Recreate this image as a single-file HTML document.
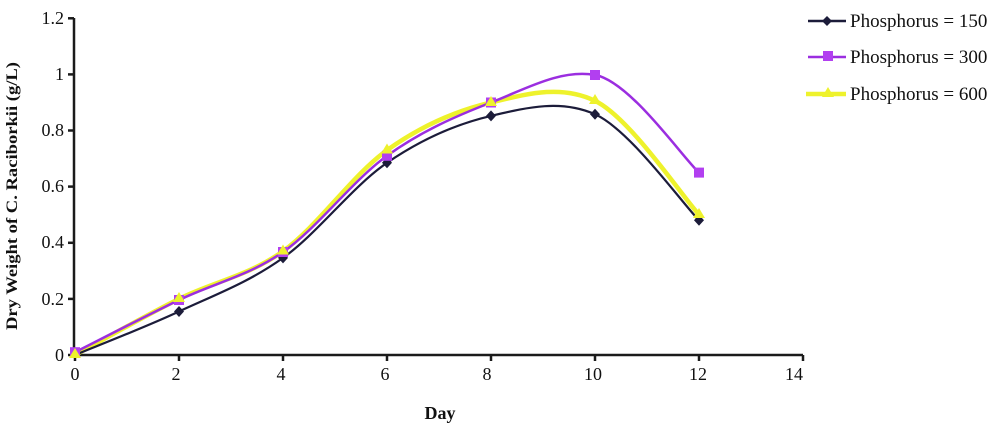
<!DOCTYPE html>
<html><head><meta charset="utf-8"><style>
html,body{margin:0;padding:0;background:#fff;}
svg{display:block;}
text{font-family:"Liberation Serif",serif;fill:#111;}
</style></head><body>
<svg width="1000" height="425" viewBox="0 0 1000 425" xmlns="http://www.w3.org/2000/svg">
<rect width="1000" height="425" fill="#fff"/>
<!-- axes -->
<g stroke="#1b1b1b" stroke-width="2.5" fill="none">
<line x1="74" y1="18" x2="74" y2="356"/>
<line x1="73" y1="355" x2="803" y2="355"/>
<line x1="68" y1="18.3" x2="74" y2="18.3"/>
<line x1="68" y1="74.4" x2="74" y2="74.4"/>
<line x1="68" y1="130.5" x2="74" y2="130.5"/>
<line x1="68" y1="186.6" x2="74" y2="186.6"/>
<line x1="68" y1="242.8" x2="74" y2="242.8"/>
<line x1="68" y1="298.9" x2="74" y2="298.9"/>
<line x1="68" y1="355" x2="74" y2="355"/>
<line x1="75" y1="355" x2="75" y2="361"/>
<line x1="179" y1="355" x2="179" y2="361"/>
<line x1="283" y1="355" x2="283" y2="361"/>
<line x1="387" y1="355" x2="387" y2="361"/>
<line x1="491" y1="355" x2="491" y2="361"/>
<line x1="595" y1="355" x2="595" y2="361"/>
<line x1="699" y1="355" x2="699" y2="361"/>
<line x1="803" y1="355" x2="803" y2="361"/>
</g>
<!-- y tick labels -->
<g font-size="18" text-anchor="end">
<text x="64" y="24">1.2</text>
<text x="64" y="80">1</text>
<text x="64" y="136">0.8</text>
<text x="64" y="192">0.6</text>
<text x="64" y="248">0.4</text>
<text x="64" y="305">0.2</text>
<text x="64" y="361">0</text>
</g>
<!-- x tick labels -->
<g font-size="18" text-anchor="middle">
<text x="75" y="380">0</text>
<text x="176" y="380">2</text>
<text x="281" y="380">4</text>
<text x="385" y="380">6</text>
<text x="487" y="380">8</text>
<text x="593" y="380">10</text>
<text x="698" y="380">12</text>
<text x="794" y="380">14</text>
</g>
<text x="440" y="419" font-size="18" font-weight="bold" text-anchor="middle">Day</text>
<text transform="translate(17,196) rotate(-90)" font-size="16" font-weight="bold" text-anchor="middle" textLength="268" lengthAdjust="spacingAndGlyphs">Dry Weight of C. Raciborkii (g/L)</text>

<!-- series: yellow (600) -->
<path d="M75,355 C92.33,345.65 144.33,316.2 179,298.9 C213.67,281.6 248.33,275.98 283,251.2 C317.67,226.42 352.33,174.98 387,150.2 C421.67,125.42 456.33,110.73 491,102.5 C525.67,94.27 560.33,84.1 595,100.8 C629.67,117.5 681.67,195.72 699,214.7" fill="none" stroke="#eef22c" stroke-width="4.5" stroke-linejoin="round"/>
<!-- purple (300) -->
<path d="M75,352.2 C92.33,343.5 144.33,316.7 179,300 C213.67,283.3 248.33,276.03 283,252 C317.67,227.97 352.33,180.72 387,155.8 C421.67,130.88 456.33,115.97 491,102.5 C525.67,89.03 560.33,69 595,75 C629.67,81 681.67,156.33 699,172.6" fill="none" stroke="#9b2ee0" stroke-width="2.5" stroke-linejoin="round"/>
<!-- black (150) -->
<path d="M75,355 C92.33,347.75 144.33,327.68 179,311.5 C213.67,295.32 248.33,282.68 283,257.9 C317.67,233.12 352.33,186.47 387,162.8 C421.67,139.13 456.33,123.98 491,115.9 C525.67,107.82 560.33,98.9 595,114.3 C629.67,129.7 681.67,202.63 699,220.3" fill="none" stroke="#1c1c3a" stroke-width="2.2" stroke-linejoin="round"/>

<!-- markers black diamonds -->
<g fill="#1c1c3a">
<path d="M179,306 l5,5.5 l-5,5.5 l-5,-5.5z"/>
<path d="M283,252.4 l5,5.5 l-5,5.5 l-5,-5.5z"/>
<path d="M387,157.3 l5,5.5 l-5,5.5 l-5,-5.5z"/>
<path d="M491,110.4 l5,5.5 l-5,5.5 l-5,-5.5z"/>
<path d="M595,108.8 l5,5.5 l-5,5.5 l-5,-5.5z"/>
<path d="M699,214.8 l5,5.5 l-5,5.5 l-5,-5.5z"/>
</g>
<!-- purple squares -->
<g fill="#b23ff0">
<rect x="70" y="347.2" width="10" height="10"/>
<rect x="174" y="295" width="10" height="10"/>
<rect x="278" y="247" width="10" height="10"/>
<rect x="382" y="150.8" width="10" height="10"/>
<rect x="486" y="97.5" width="10" height="10"/>
<rect x="590" y="70" width="10" height="10"/>
<rect x="694" y="167.6" width="10" height="10"/>
</g>
<!-- yellow triangles -->
<g fill="#eef22c">
<path d="M75,348 l6,10 l-12,0z"/>
<path d="M179,292 l6,10 l-12,0z"/>
<path d="M283,244.5 l6,10 l-12,0z"/>
<path d="M387,143.5 l6,10 l-12,0z"/>
<path d="M491,96 l6,10 l-12,0z"/>
<path d="M595,94 l6,10 l-12,0z"/>
<path d="M699,208 l6,10 l-12,0z"/>
</g>

<!-- legend -->
<line x1="808" y1="21" x2="846" y2="21" stroke="#1c1c3a" stroke-width="2.5"/>
<path d="M827,16 l5,5 l-5,5 l-5,-5z" fill="#1c1c3a"/>
<text x="850" y="27" font-size="19">Phosphorus = 150</text>
<line x1="808" y1="57" x2="846" y2="57" stroke="#9b2ee0" stroke-width="2.5"/>
<rect x="823" y="51" width="10" height="10" fill="#b23ff0"/>
<text x="850" y="63" font-size="19">Phosphorus = 300</text>
<line x1="806" y1="94" x2="846" y2="94" stroke="#eef22c" stroke-width="4.5"/>
<path d="M828,87 l6,10 l-12,0z" fill="#eef22c"/>
<text x="850" y="100" font-size="19">Phosphorus = 600</text>
</svg>
</body></html>
